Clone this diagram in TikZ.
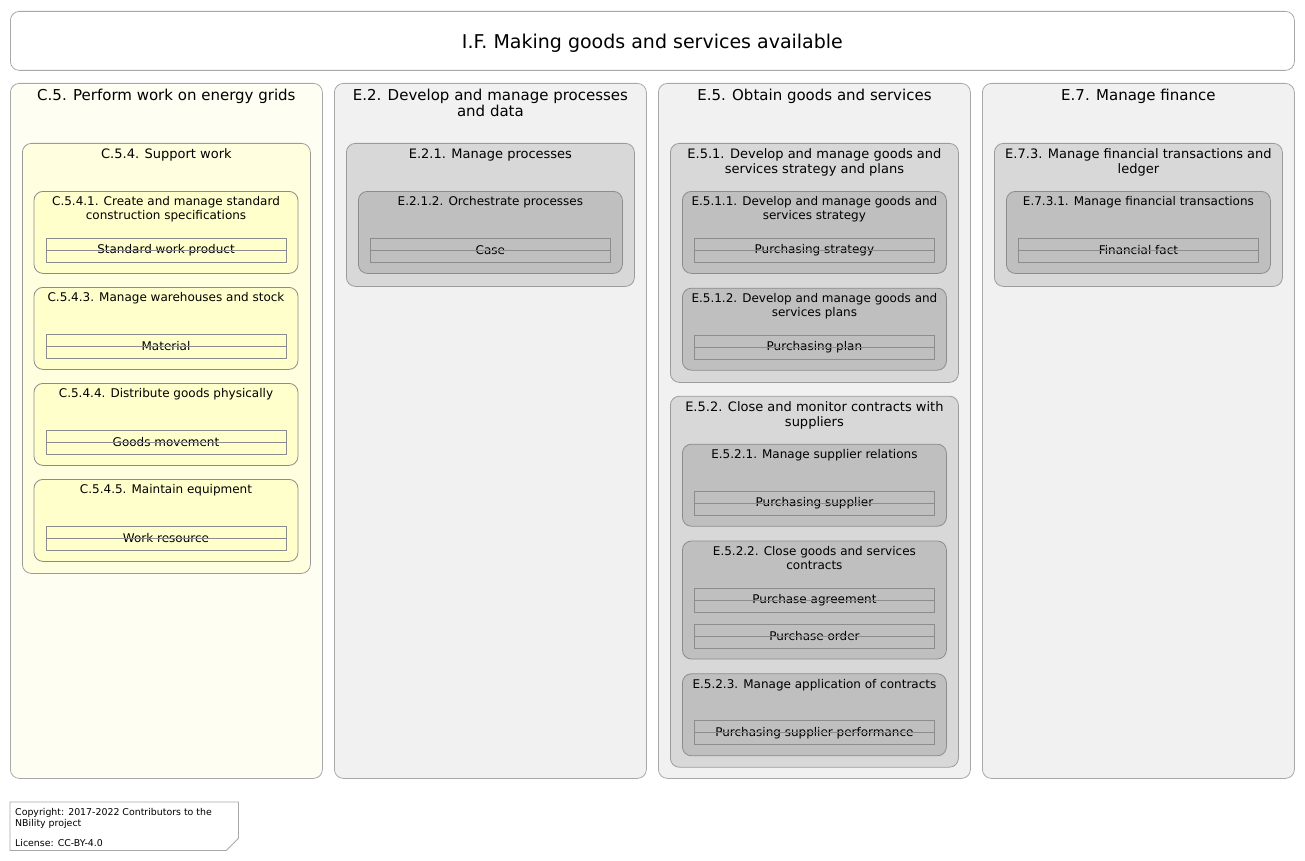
\documentclass[tikz,border=0pt]{standalone}
\usepackage{fontspec}
\setmainfont{DejaVu Sans}
\usetikzlibrary{positioning}
\definecolor{linecol}{RGB}{168,168,168}
\definecolor{linegrp}{RGB}{155,155,155}
\definecolor{lineact}{RGB}{140,140,140}
\definecolor{lineent}{RGB}{140,140,140}
\definecolor{yelcol}{RGB}{254,254,242}
\definecolor{yelgrp}{RGB}{255,255,224}
\definecolor{yelact}{RGB}{255,255,204}
\definecolor{graycol}{RGB}{241,241,241}
\definecolor{graygrp}{RGB}{216,216,216}
\definecolor{grayact}{RGB}{191,191,191}

\begin{document}
\begin{tikzpicture}[x=1pt, y=-1pt,
    colbox/.style={draw=linecol, line width=0.8pt, rounded corners=9pt, inner sep=0pt, minimum width=312pt, minimum height=695pt, anchor=north west},
    grpbox/.style={draw=linegrp, line width=0.8pt, rounded corners=9pt, inner sep=0pt, minimum width=288pt, anchor=north},
    actbox/.style={draw=lineact, line width=0.8pt, rounded corners=9pt, inner sep=0pt, minimum width=264pt, minimum height=82pt, anchor=north},
    entity/.style={draw=lineent, line width=0.6pt, inner sep=0pt, minimum width=240pt, minimum height=24pt, anchor=north, font=\fontsize{12}{14}\selectfont},
    coltitle/.style={font=\fontsize{15}{16}\selectfont, align=center, anchor=north, inner sep=0pt},
    grptitle/.style={font=\fontsize{13}{15}\selectfont, align=center, anchor=north, inner sep=0pt},
    subtitle/.style={font=\fontsize{12}{14}\selectfont, align=center, anchor=north, inner sep=0pt}]
    \useasboundingbox (0,0) rectangle (1305,861);

    % Title bar
    \node[draw=linecol, line width=0.8pt, rounded corners=9pt, minimum width=1284pt, minimum height=59pt, anchor=north west] (top) at (10,11) {};
    \node[font=\fontsize{19}{22}\selectfont] (toptitle) at ([yshift=-2pt]top.center) {I.F. Making goods and services available};

    % Columns
    \node[colbox, fill=yelcol] (c5) at (10,83) {};
    \node[colbox, fill=graycol] (e2) at (334,83) {};
    \node[colbox, fill=graycol] (e5) at (658,83) {};
    \node[colbox, fill=graycol] (e7) at (982,83) {};
    \node[coltitle, below=6pt of c5.north] (c5t) {C.5. Perform work on energy grids};
    \node[coltitle, below=6pt of e2.north] (e2t) {E.2. Develop and manage processes\\and data};
    \node[coltitle, below=6pt of e5.north] (e5t) {E.5. Obtain goods and services};
    \node[coltitle, below=6pt of e7.north] (e7t) {E.7. Manage finance};

    % C.5.4 Support work
    \node[grpbox, fill=yelgrp, minimum height=430pt, below=60pt of c5.north] (c54) {};
    \node[grptitle, below=5.5pt of c54.north] (c54t) {C.5.4. Support work};
    \foreach \t/\e [count=\i from 0] in {{C.5.4.1. Create and manage standard\\construction specifications}/Standard work product,
        {C.5.4.3. Manage warehouses and stock}/Material,
        {C.5.4.4. Distribute goods physically}/Goods movement,
        {C.5.4.5. Maintain equipment}/Work resource} {
        \node[actbox, fill=yelact] (c54a\i) at (166,{191+96*\i}) {};
        \node[subtitle, below=5.5pt of c54a\i.north] (c54at\i) {\t};
        \node[entity, below=47pt of c54a\i.north] (c54e\i) {\e};
        \draw[lineent, line width=0.6pt] (c54e\i.west) -- (c54e\i.east);
    }

    % E.2.1 Manage processes
    \node[grpbox, fill=graygrp, minimum height=143pt, below=60pt of e2.north] (e21) {};
    \node[grptitle, below=5.5pt of e21.north] (e21t) {E.2.1. Manage processes};
    \node[actbox, fill=grayact, below=48pt of e21.north] (e212) {};
    \node[subtitle, below=5.5pt of e212.north] (e212t) {E.2.1.2. Orchestrate processes};
    \node[entity, below=47pt of e212.north] (case) {Case};

    % E.5.1 strategy and plans
    \node[grpbox, fill=graygrp, minimum height=239pt, below=60pt of e5.north] (e51) {};
    \node[grptitle, below=5.5pt of e51.north] (e51t) {E.5.1. Develop and manage goods and\\services strategy and plans};
    \node[actbox, fill=grayact, below=48pt of e51.north] (e511) {};
    \node[subtitle, below=5.5pt of e511.north] (e511t) {E.5.1.1. Develop and manage goods and\\services strategy};
    \node[entity, below=47pt of e511.north] (pstrat) {Purchasing strategy};
    \node[actbox, fill=grayact, below=14pt of e511.south] (e512) {};
    \node[subtitle, below=5.5pt of e512.north] (e512t) {E.5.1.2. Develop and manage goods and\\services plans};
    \node[entity, below=47pt of e512.north] (pplan) {Purchasing plan};

    % E.5.2 contracts with suppliers
    \node[grpbox, fill=graygrp, minimum height=371pt, below=13pt of e51.south] (e52) {};
    \node[grptitle, below=5.5pt of e52.north] (e52t) {E.5.2. Close and monitor contracts with\\suppliers};
    \node[actbox, fill=grayact, below=48pt of e52.north] (e521) {};
    \node[subtitle, below=5.5pt of e521.north] (e521t) {E.5.2.1. Manage supplier relations};
    \node[entity, below=47pt of e521.north] (psupp) {Purchasing supplier};
    \node[actbox, fill=grayact, minimum height=118pt, below=14pt of e521.south] (e522) {};
    \node[subtitle, below=5.5pt of e522.north] (e522t) {E.5.2.2. Close goods and services\\contracts};
    \node[entity, below=47pt of e522.north] (pagree) {Purchase agreement};
    \node[entity, below=83pt of e522.north] (porder) {Purchase order};
    \node[actbox, fill=grayact, below=14pt of e522.south] (e523) {};
    \node[subtitle, below=5.5pt of e523.north] (e523t) {E.5.2.3. Manage application of contracts};
    \node[entity, below=47pt of e523.north] (pperf) {Purchasing supplier performance};

    % E.7.3 financial transactions
    \node[grpbox, fill=graygrp, minimum height=143pt, below=60pt of e7.north] (e73) {};
    \node[grptitle, below=5.5pt of e73.north] (e73t) {E.7.3. Manage financial transactions and\\ledger};
    \node[actbox, fill=grayact, below=48pt of e73.north] (e731) {};
    \node[subtitle, below=5.5pt of e731.north] (e731t) {E.7.3.1. Manage financial transactions};
    \node[entity, below=47pt of e731.north] (ffact) {Financial fact};

    % Midlines of the entities
    \foreach \n in {case,pstrat,pplan,psupp,pagree,porder,pperf,ffact}
        \draw[lineent, line width=0.6pt] (\n.west) -- (\n.east);

    % Copyright note
    \node[minimum width=228pt, minimum height=48pt, inner sep=0pt, anchor=north west] (note) at (10,802) {};
    \draw[linecol, line width=0.8pt] (note.north west) -- (note.north east) -- ([yshift=12pt]note.south east)
        -- ([xshift=-12pt]note.south east) -- (note.south west) -- cycle;
    \node[font=\fontsize{9.4}{11}\selectfont, align=left, anchor=north west, inner sep=0pt] (notetext) at (15,808)
        {Copyright: 2017-2022 Contributors to the\\NBility project\\[9pt]License: CC-BY-4.0};
\end{tikzpicture}
\end{document}
